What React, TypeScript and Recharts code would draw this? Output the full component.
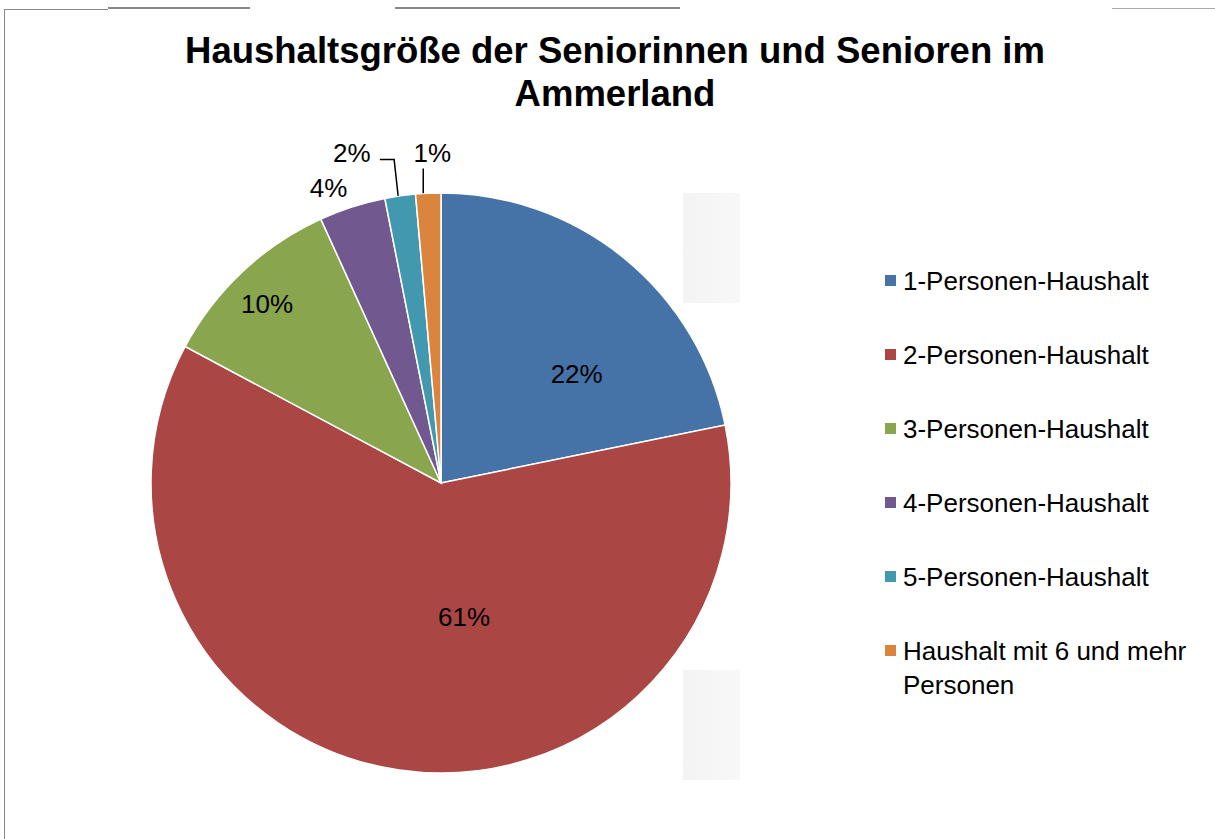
import React from "react";
import { PieChart, Pie, Cell, Legend } from "recharts";

const categories = [
  "1-Personen-Haushalt",
  "2-Personen-Haushalt",
  "3-Personen-Haushalt",
  "4-Personen-Haushalt",
  "5-Personen-Haushalt",
  "Haushalt mit 6 und mehr Personen",
];
const shares = [21.8, 61.0, 10.4, 3.7, 1.7, 1.4];
const colors = ["#4572A7", "#AA4643", "#89A54E", "#71588F", "#4198AF", "#DB843D"];

const data = categories.map((name, i) => ({ name, value: shares[i] }));

const FONT = "Arial, 'Liberation Sans', Helvetica, sans-serif";
const RAD = Math.PI / 180;

// label placement: distance factor (x radius) and angle shift (deg, clockwise)
const labelPlacement = [
  { kind: "inside", dist: 0.6, shift: 12 },
  { kind: "inside", dist: 0.47, shift: -18 },
  { kind: "inside", dist: 0.86, shift: -1 },
  { kind: "outside", dist: 1.09, shift: -3 },
  { kind: "elbow", dist: 1.18, shift: -7 },
  { kind: "vertical", dist: 1.14, shift: 1 },
];

function renderLabel(props: any) {
  const { cx, cy, midAngle, outerRadius, percent, index } = props;
  const p = labelPlacement[index];
  const clock = 90 - midAngle + p.shift;
  const d = outerRadius * p.dist;
  const tx = cx + d * Math.sin(clock * RAD);
  const ty = cy - d * Math.cos(clock * RAD);
  const text = `${Math.round(percent * 100)}%`;
  const mid = 90 - midAngle;
  const ex = cx + outerRadius * Math.sin(mid * RAD);
  const ey = cy - outerRadius * Math.cos(mid * RAD);

  const label = (
    <text x={tx} y={ty} textAnchor="middle" dominantBaseline="central" fontSize={26} fontFamily={FONT} fill="#000">
      {text}
    </text>
  );

  if (p.kind === "elbow") {
    const right = tx + 22;
    return (
      <g>
        <polyline
          points={`${ex - 2},${ey} ${ex - 6},${ty + 7} ${right + 6},${ty + 7}`}
          fill="none"
          stroke="#000"
          strokeWidth={1.5}
        />
        {label}
      </g>
    );
  }
  if (p.kind === "vertical") {
    return (
      <g>
        <line x1={ex - 5} y1={ey} x2={ex - 5} y2={ty + 16} stroke="#000" strokeWidth={1.5} />
        {label}
      </g>
    );
  }
  return label;
}

function LegendContent() {
  return (
    <div style={{ fontFamily: FONT, fontSize: 26, color: "#000" }}>
      {categories.map((c, i) => (
        <div key={c} style={{ display: "flex", alignItems: "flex-start", height: 74 }}>
          <div
            style={{
              width: 11,
              height: 11,
              background: colors[i],
              marginTop: 11,
              marginRight: 7,
              flexShrink: 0,
            }}
          />
          <div style={{ width: 295, lineHeight: "34px" }}>{c}</div>
        </div>
      ))}
    </div>
  );
}

export default function App() {
  return (
    <div style={{ position: "absolute", left: 0, top: 0, width: 1215, height: 839, background: "#fff" }}>
      {/* scan frame */}
      <div style={{ position: "absolute", left: 4, top: 9, width: 1, height: 830, background: "#888" }} />
      <div style={{ position: "absolute", left: 4, top: 9, width: 104, height: 1, background: "#888" }} />
      <div style={{ position: "absolute", left: 108, top: 7, width: 142, height: 2, background: "#888" }} />
      <div style={{ position: "absolute", left: 395, top: 7, width: 285, height: 2, background: "#888" }} />
      <div style={{ position: "absolute", left: 1112, top: 8, width: 103, height: 1, background: "#aaa" }} />
      <div
        style={{
          position: "absolute",
          left: 683,
          top: 193,
          width: 57,
          height: 110,
          background: "linear-gradient(to right, #f3f3f3, #f8f8f8)",
        }}
      />
      <div
        style={{
          position: "absolute",
          left: 683,
          top: 670,
          width: 57,
          height: 110,
          background: "linear-gradient(to right, #f3f3f3, #f8f8f8)",
        }}
      />

      <div
        style={{
          position: "absolute",
          left: 0,
          top: 29,
          width: 1230,
          textAlign: "center",
          fontFamily: FONT,
          fontWeight: "bold",
          fontSize: 36.5,
          lineHeight: "43px",
          color: "#000",
        }}
      >
        Haushaltsgröße der Seniorinnen und Senioren im
        <br />
        Ammerland
      </div>

      <div style={{ position: "absolute", left: 0, top: 0 }}>
        <PieChart width={1215} height={839} margin={{ top: 0, right: 0, bottom: 0, left: 0 }}>
          <Pie
            data={data}
            dataKey="value"
            nameKey="name"
            cx={441}
            cy={483}
            outerRadius={290}
            startAngle={90}
            endAngle={-270}
            stroke="#ffffff"
            strokeWidth={1.5}
            label={renderLabel}
            labelLine={false}
            isAnimationActive={false}
          >
            {data.map((d, i) => (
              <Cell key={d.name} fill={colors[i]} />
            ))}
          </Pie>
          <Legend
            content={<LegendContent />}
            wrapperStyle={{ position: "absolute", left: 885, top: 264, width: 320 }}
          />
        </PieChart>
      </div>
    </div>
  );
}
